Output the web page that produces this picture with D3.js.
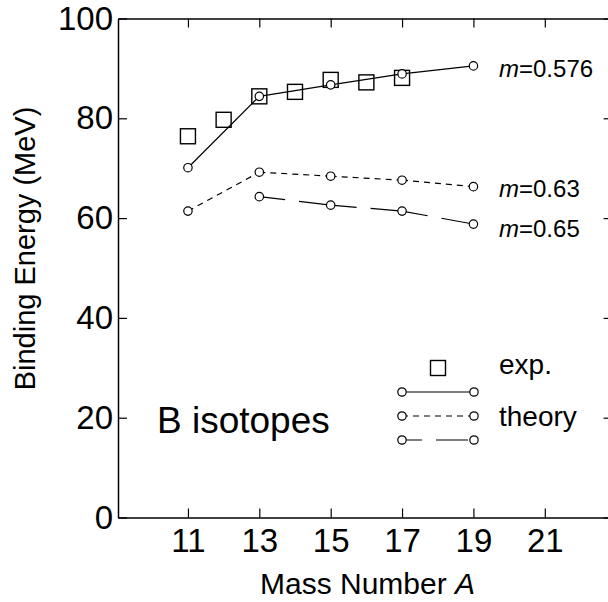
<!DOCTYPE html>
<html><head><meta charset="utf-8">
<script src="https://cdn.jsdelivr.net/npm/d3@7"></script>
<style>body{margin:0;background:#fff}svg{display:block}text{font-family:"Liberation Sans",Arial,sans-serif;fill:#000}</style>
</head><body><svg id="c" width="608" height="602"></svg>
<script>
const expA = [11,12,13,14,15,16,17];
const expBE = [76.4,79.7,84.4,85.3,87.7,87.2,88.1];
const thA576 = [11,13,15,17,19];
const thBE576 = [70.1,84.4,86.7,88.9,90.5];
const thA63 = [11,13,15,17,19];
const thBE63 = [61.4,69.2,68.4,67.6,66.3];
const thA65 = [13,15,17,19];
const thBE65 = [64.3,62.6,61.4,58.8];
const xTicks = [11,13,15,17,19,21];
const yTicks = [0,20,40,60,80,100];
const seriesLabels = ["m=0.576","m=0.63","m=0.65"];

(function(){
const svg = d3.select("#c");
const FF = "'Liberation Sans',Arial,sans-serif";
const x = d3.scaleLinear().domain([9.04,22.9]).range([118,612.6]);
const y = d3.scaleLinear().domain([0,100]).range([517.5,18.5]);
const TL = 9;

const ax = svg.append("g");
ax.append("g").attr("transform",`translate(0,${y(0)})`)
  .call(d3.axisBottom(x).tickValues(xTicks).tickSizeInner(-TL).tickSizeOuter(0).tickPadding(11));
ax.append("g").attr("transform",`translate(0,${y(100)})`)
  .call(d3.axisTop(x).tickValues(xTicks).tickSizeInner(-TL).tickSizeOuter(0).tickFormat(""));
ax.append("g").attr("transform",`translate(${x.range()[0]},0)`)
  .call(d3.axisLeft(y).tickValues(yTicks).tickSizeInner(-TL).tickSizeOuter(0).tickPadding(5));
ax.append("g").attr("transform",`translate(${x.range()[1]},0)`)
  .call(d3.axisRight(y).tickValues(yTicks).tickSizeInner(-TL).tickSizeOuter(0).tickFormat(""));
ax.selectAll(".domain").attr("stroke","#000").attr("stroke-width",1.5);
ax.selectAll(".tick line").attr("stroke","#000").attr("stroke-width",1.2);
ax.selectAll(".tick text").style("font-size","33px").style("font-family",FF).attr("fill","#000");

const plot = svg.append("g");
const R = 4.2;
function drawLine(A,B,dash,offset){
  const pts = A.map((a,i)=>[a,B[i]]);
  const segs = d3.pairs(pts);
  plot.append("g").selectAll("path").data(segs).join("path")
    .attr("d",d3.line().x(d=>x(d[0])).y(d=>y(d[1])))
    .attr("fill","none").attr("stroke","#000").attr("stroke-width",1.2)
    .attr("stroke-dasharray",dash).attr("stroke-dashoffset",offset||0);
  plot.append("g").selectAll("circle").data(pts).join("circle")
    .attr("cx",d=>x(d[0])).attr("cy",d=>y(d[1])).attr("r",R)
    .attr("fill","#fff").attr("stroke","#000").attr("stroke-width",1.2);
}
plot.append("g").selectAll("rect").data(expA.map((a,i)=>[a,expBE[i]])).join("rect")
  .attr("x",d=>x(d[0])-7.5).attr("y",d=>y(d[1])-7.5).attr("width",15).attr("height",15)
  .attr("fill","none").attr("stroke","#000").attr("stroke-width",1.4);
drawLine(thA576,thBE576,null,0);
drawLine(thA63,thBE63,"6,5",0);
drawLine(thA65,thBE65,"32,14",6);

const labY = [77,197,237];
seriesLabels.forEach((s,i)=>{
  const t = svg.append("text").attr("x",499).attr("y",labY[i]).style("font-size","24px");
  t.append("tspan").style("font-style","italic").text(s.slice(0,1));
  t.append("tspan").text(s.slice(1));
});

const lg = svg.append("g");
lg.append("rect").attr("x",438-7.5).attr("y",368-7.5).attr("width",15).attr("height",15)
  .attr("fill","none").attr("stroke","#000").attr("stroke-width",1.4);
const legDash = [null,"6,5","32,14"];
const legOff = [0,0,12];
[392,416,440].forEach((ly,i)=>{
  lg.append("line").attr("x1",402).attr("x2",474).attr("y1",ly).attr("y2",ly)
    .attr("stroke","#000").attr("stroke-width",1.2).attr("stroke-dasharray",legDash[i])
    .attr("stroke-dashoffset",legOff[i]);
  [402,474].forEach(cx=>lg.append("circle").attr("cx",cx).attr("cy",ly).attr("r",R)
    .attr("fill","#fff").attr("stroke","#000").attr("stroke-width",1.2));
});
lg.append("text").attr("x",499).attr("y",374).style("font-size","28px").text("exp.");
lg.append("text").attr("x",499).attr("y",425.5).style("font-size","28px").text("theory");

svg.append("text").attr("x",157).attr("y",433).style("font-size","37px").text("B isotopes");

const xt = svg.append("text").attr("x",367.5).attr("y",594).attr("text-anchor","middle")
  .style("font-size","30px");
xt.append("tspan").text("Mass Number ");
xt.append("tspan").style("font-style","italic").text("A");
svg.append("text").attr("transform","translate(35,248.5) rotate(-90)").attr("text-anchor","middle")
  .style("font-size","29px").text("Binding Energy (MeV)");
})();
</script></body></html>
